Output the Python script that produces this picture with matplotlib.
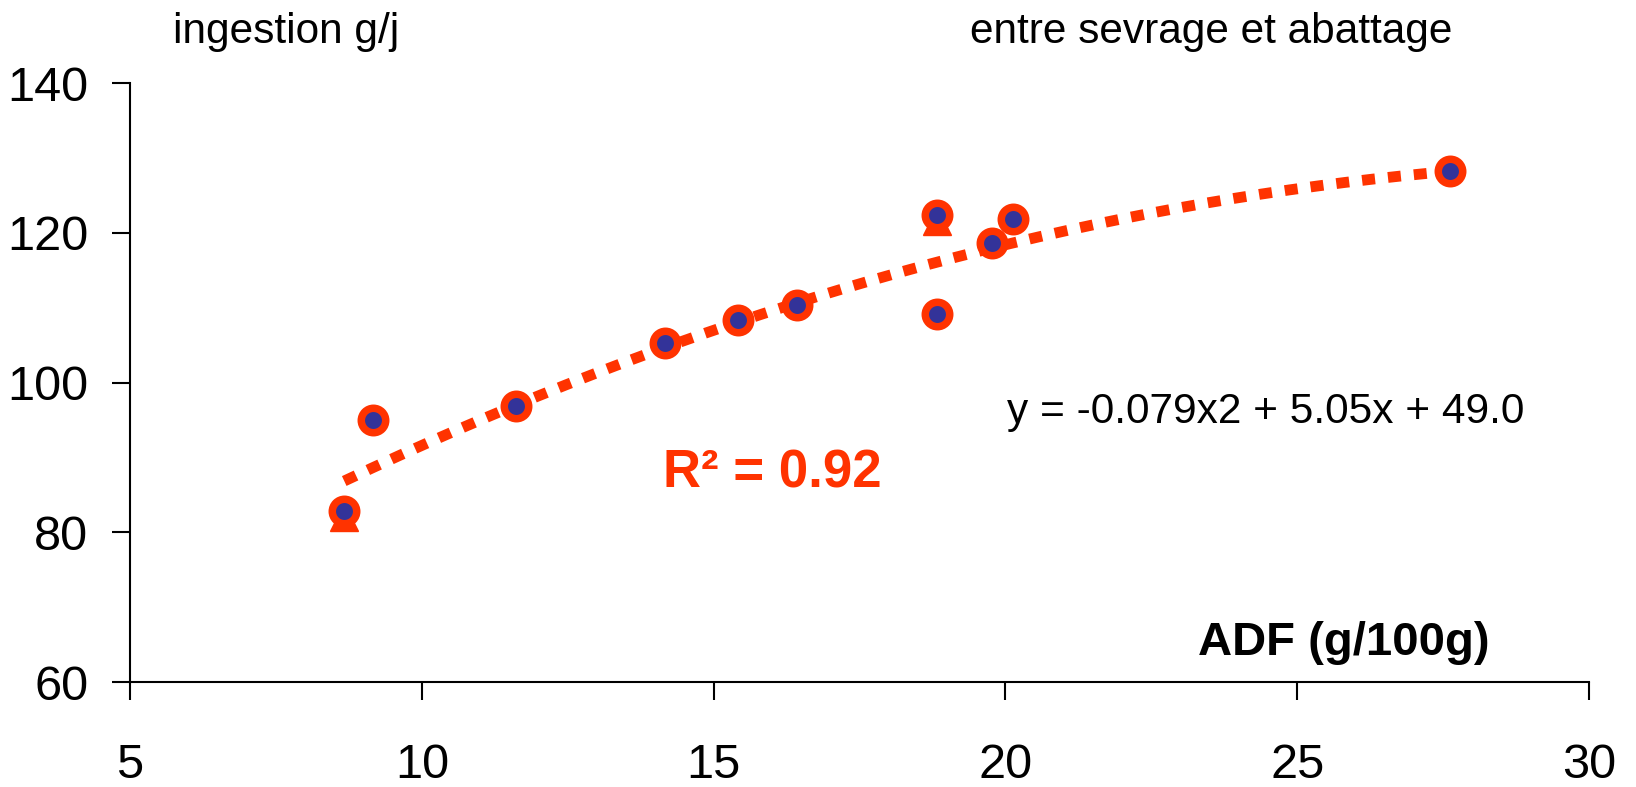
import numpy as np
import matplotlib
matplotlib.use("Agg")
import matplotlib.pyplot as plt

plt.rcParams['font.family'] = ['Liberation Sans', 'DejaVu Sans']

# data
adf = [8.67, 9.17, 11.62, 14.17, 15.41, 16.43, 18.82, 18.82, 19.77, 20.13, 27.62]
ingestion = [82.8, 95.0, 96.9, 105.3, 108.4, 110.4, 122.4, 109.1, 118.7, 121.8, 128.2]
adf_tri = [8.67, 18.82]
ingestion_tri = [82.0, 121.6]

# trend line y = a x^2 + b x + c (as printed on the chart)
trend_coef = [-0.079, 5.05, 49.0]
trend_range = [8.67, 27.62]

orange = '#FF3300'
blue = '#333399'

fig = plt.figure(figsize=(16.36, 7.87), dpi=100)
ax = fig.add_axes([0.0795, 0.1334, 0.8918, 0.7611])

xs = np.linspace(trend_range[0], trend_range[1], 200)
ax.plot(xs, np.polyval(trend_coef, xs), color=orange, lw=7.8,
        linestyle=(0, (1.2, 1.2)), dash_capstyle='butt', zorder=2)

ax.plot(adf_tri, ingestion_tri, linestyle='none', marker='^', ms=20,
        color=orange, mec=orange, zorder=3)
ax.plot(adf, ingestion, linestyle='none', marker='o', ms=17.6, mew=5.4,
        mfc=blue, mec=orange, zorder=4)

ax.set_xlim(5, 30)
ax.set_ylim(60, 140)
ax.set_xticks([5, 10, 15, 20, 25, 30])
ax.set_yticks([60, 80, 100, 120, 140])
ax.spines['top'].set_visible(False)
ax.spines['right'].set_visible(False)
for s in ['left', 'bottom']:
    ax.spines[s].set_linewidth(1.5)
ax.tick_params(axis='both', direction='out', length=13, width=1.5,
               labelsize=35)
ax.tick_params(axis='x', pad=31)
ax.tick_params(axis='y', pad=17)
plt.setp(ax.get_yticklabels(), va='center_baseline')

fig.text(173 / 1636, 1 - 43 / 787, 'ingestion g/j', fontsize=30.5, va='baseline')
fig.text(970 / 1636, 1 - 43 / 787, 'entre sevrage et abattage', fontsize=30.5, va='baseline')
fig.text(1007 / 1636, 1 - 423 / 787, 'y = -0.079x2 + 5.05x + 49.0', fontsize=30.5, va='baseline')
fig.text(663 / 1636, 1 - 488 / 787, 'R² = 0.92', fontsize=38, fontweight='bold',
         color=orange, va='baseline')
fig.text(1198 / 1636, 1 - 655 / 787, 'ADF (g/100g)', fontsize=34, fontweight='bold',
         va='baseline')

fig.savefig('out.png', dpi=100)
